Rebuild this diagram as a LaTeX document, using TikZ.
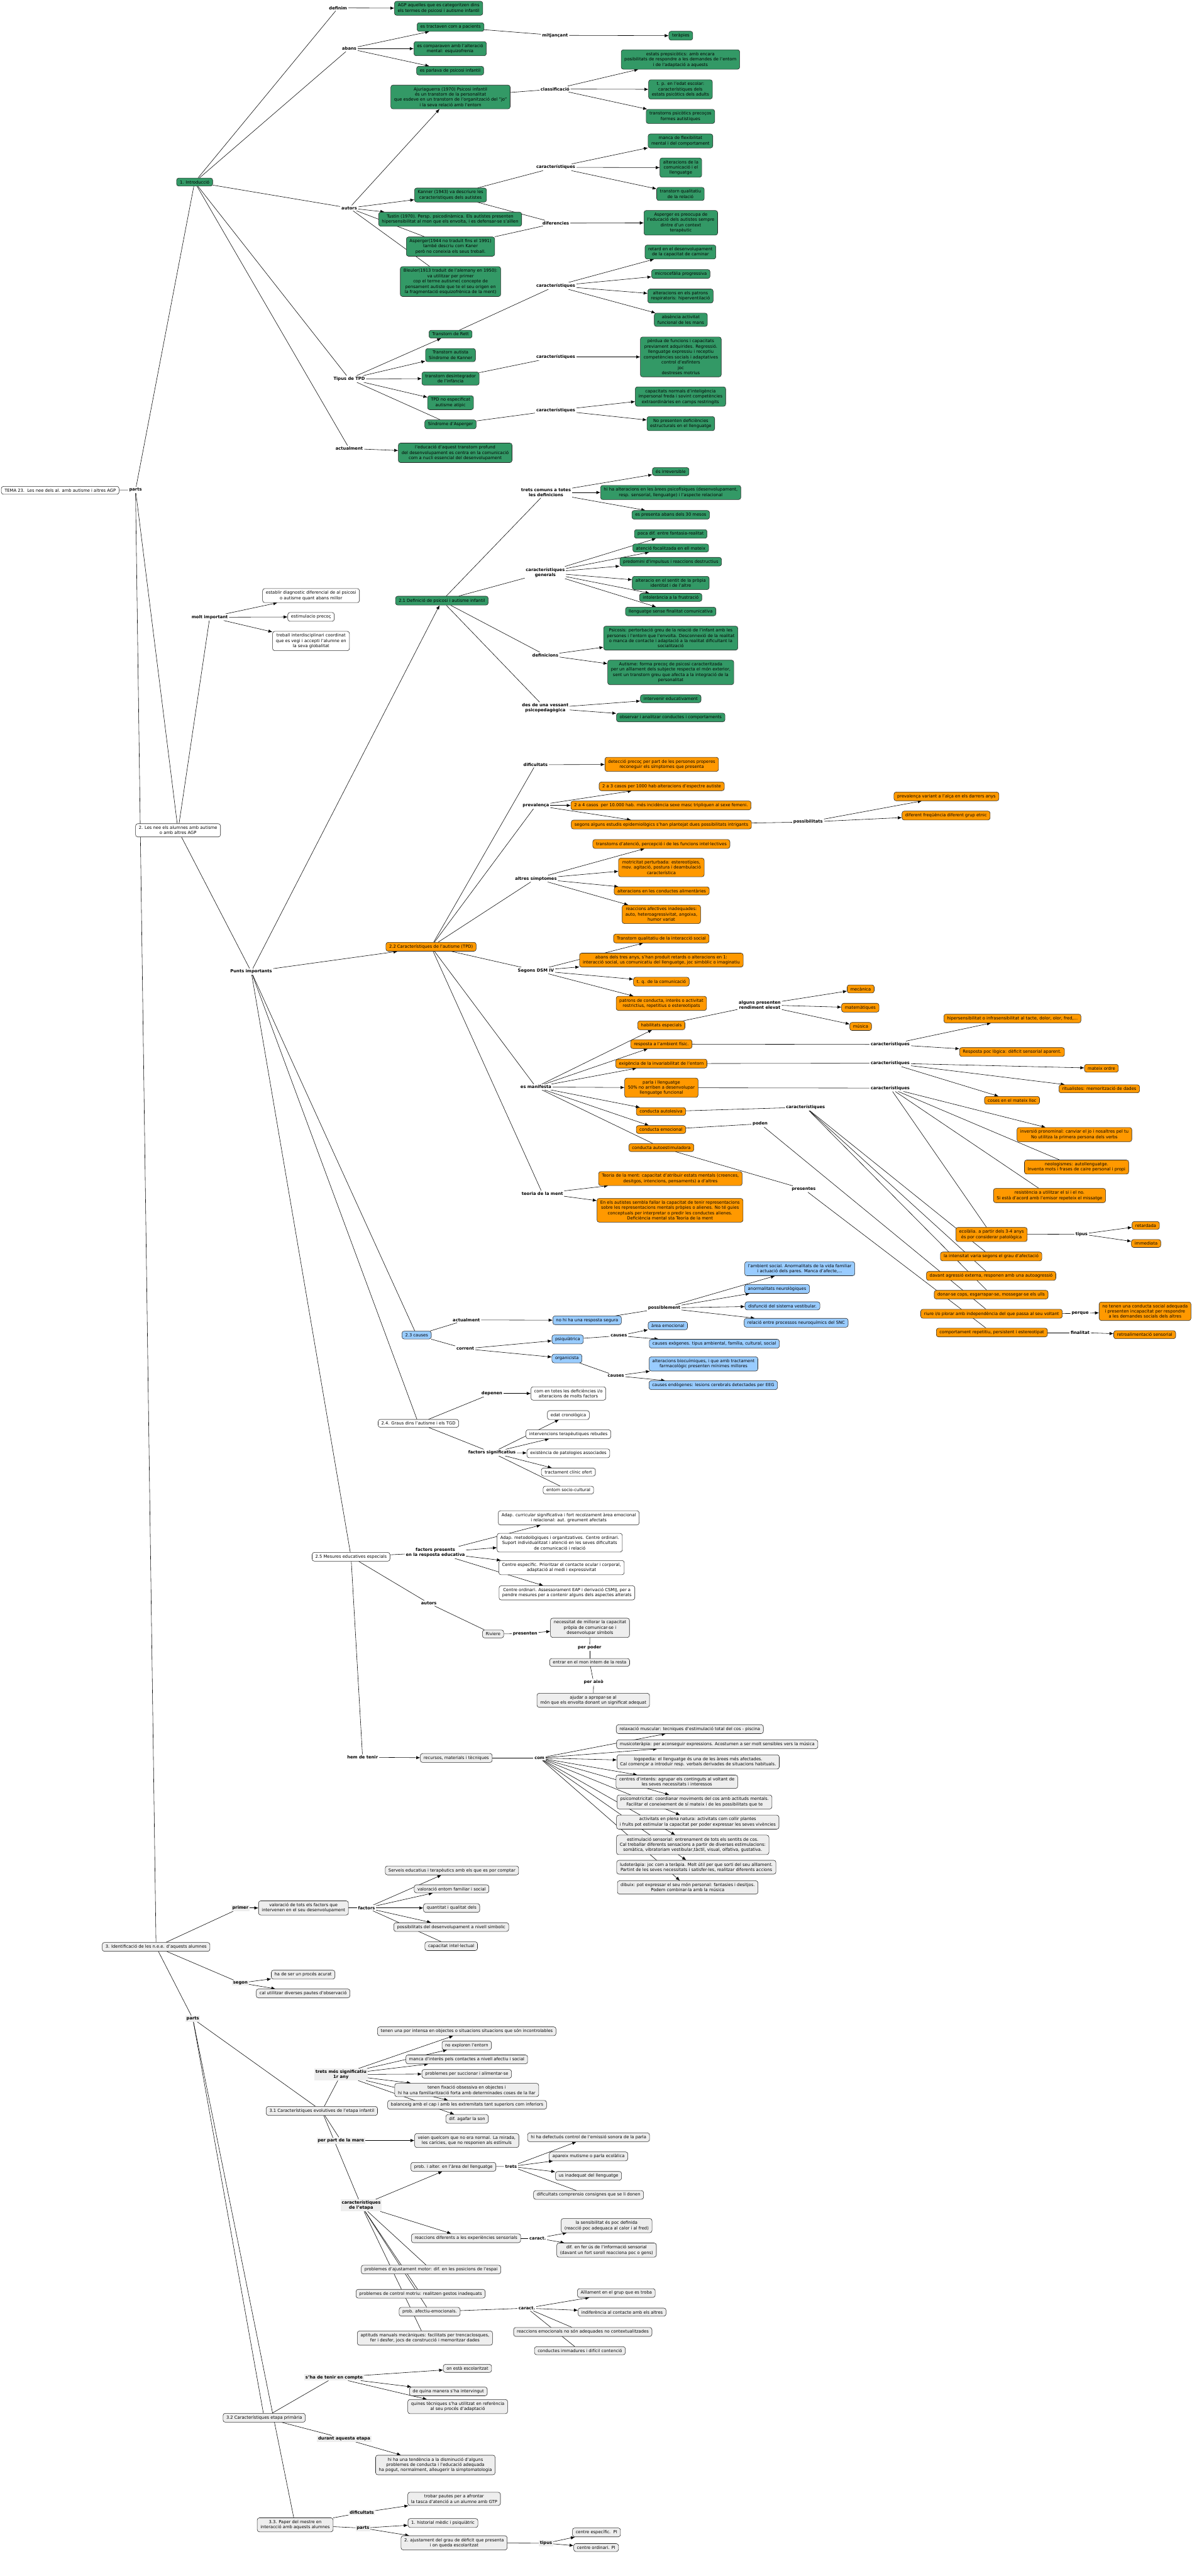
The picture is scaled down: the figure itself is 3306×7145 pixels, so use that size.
\documentclass[tikz,border=0pt]{standalone}
\usepackage{fontspec}
\setmainfont{DejaVu Sans}
\usetikzlibrary{arrows.meta}
\pgfdeclarelayer{background}
\pgfsetlayers{background,main}
\definecolor{cgreen}{RGB}{51,153,102}
\definecolor{corange}{RGB}{255,153,0}
\definecolor{cblue}{RGB}{153,204,255}
\definecolor{cgray}{RGB}{238,238,238}
\definecolor{clab}{RGB}{238,238,238}
\newcommand{\bxf}{\fontsize{5.9pt}{7.35pt}\selectfont}
\newcommand{\myL}[2]{\foreach \t in {#2}{\draw (#1) -- (\t);}}
\newcommand{\myA}[2]{\foreach \t in {#2}{\draw[arr] (#1) -- (\t);}}
\tikzset{
  box/.style={draw=black!85, line width=0.5pt, rounded corners=3pt, inner xsep=4.5pt, inner ysep=3.2pt, align=center, font=\bxf},
  bxG/.style={box, fill=cgreen},
  bxO/.style={box, fill=corange},
  bxB/.style={box, fill=cblue},
  bxY/.style={box, fill=cgray},
  bxW/.style={box, fill=white},
  lab/.style={font=\bxf\bfseries, inner sep=1.5pt, align=center, fill=white},
  slab/.style={lab, fill=clab},
  arr/.style={-{Latex[length=5.5pt,width=4.5pt]}}
}
\begin{document}
\begin{tikzpicture}[x=0.5pt,y=-0.5pt]
\begin{pgfonlayer}{background}
\fill[white] (0,0) rectangle (3306,7145);
\end{pgfonlayer}
\useasboundingbox (0,0) rectangle (3306,7145);

% ---------- root ----------
\node[bxW] (root) at (167,1360) {TEMA 23.~~Les nee dels al. amb autisme i altres AGP};
\node[lab] (Lparts) at (376,1359) {parts};
\node[bxG] (intro) at (540,505) {1. Introducció};
\node[bxW] (les) at (494,2303) {2. Les nee els alumnes amb autisme\\o amb altres AGP};
\node[bxY] (ident) at (433,5400) {3. Identificació de les n.e.e. d'aquests alumnes};

% ---------- section 1 ----------
\node[lab] (Ldefinim) at (938,22) {definim};
\node[bxG] (agp) at (1217,23) {AGP aquelles que es categoritzen dins\\els termes de psicosi i autisme infantil};
\node[lab] (Labans) at (969,135) {abans};
\node[bxG] (tract) at (1250,75) {es tractaven com a pacients};
\node[lab] (Lmitj) at (1540,98) {mitjançant};
\node[bxG] (terap) at (1889,99) {teràpies};
\node[bxG] (compar) at (1249,135) {es comparaven amb l'alteració\\mental: esquizofrenia};
\node[bxG] (parlava) at (1249,196) {es parlava de psicosi infantil};
\node[bxG] (ajur) at (1250,269) {Ajuriaguerra (1970) Psicosi infantil\\és un transtorn de la personalitat\\que esdeve en un transtorn de l'organització del "jo"\\i la seva relació amb l'entorn};
\node[lab] (Lclass) at (1540,247) {classificació};
\node[bxG] (estats) at (1888,165) {estats prepsicòtics: amb encara\\posibilitats de respondre a les demandes de l'entorn\\i de l'adaptació a aquests};
\node[bxG] (tp) at (1888,248) {t. p. en l'edat escolar:\\característiques dels\\estats psicòtics dels adults};
\node[bxG] (precoc) at (1888,323) {transtorns psicòtics precoços\\formes autistiques};
\node[lab] (Lcar1) at (1542,464) {característiques};
\node[bxG] (manca) at (1888,391) {manca de flexibilitat\\mental i del comportament};
\node[bxG] (altcom) at (1889,465) {alteracions de la\\comunicació i el\\llenguatge};
\node[bxG] (tqrel) at (1888,538) {transtorn qualitatiu\\de la relació};
\node[bxG] (kanner) at (1250,541) {Kanner (1943) va descriure les\\caracteristiques dels autistes};
\node[lab] (Lautors) at (969,577) {autors};
\node[bxG] (tustin) at (1249,608) {Tustin (1970). Persp. psicodinàmica. Els autístes presenten\\hipersensibilitat al mon que els envolta, i es defensar-se s'aïllen};
\node[lab] (Ldif) at (1542,619) {diferencies};
\node[bxG] (aspprec) at (1889,618) {Asperger es preocupa de\\l'educació dels autistes sempre\\dintre d'un context\\terapèutic};
\node[bxG] (asp) at (1250,684) {Asperger(1944 no traduït fins el 1991)\\també descriu com Kaner\\però no coneixia els seus treball.};
\node[bxG] (retard) at (1888,699) {retard en el desenvolupament\\de la capacitat de caminar};
\node[bxG] (bleuler) at (1250,781) {Bleuler(1913 traduit de l'alemany en 1950):\\va utilitzar per primer\\cop el terme autisme( concepte de\\pensament autiste que te el seu origen en\\la fragmentació esquizofrènica de la ment)};
\node[lab] (Lcar2) at (1542,793) {característiques};
\node[bxG] (micro) at (1889,760) {microcefàlia progressiva};
\node[bxG] (patrons) at (1888,821) {alteracions en els patrons\\respiratoris: hiperventilació};
\node[bxG] (absenc) at (1889,887) {absència activitat\\funcional de les mans};
\node[bxG] (rett) at (1250,927) {Transtorn de Rett};
\node[bxG] (autista) at (1250,985) {Transtorn autista\\Síndrome de Kanner};
\node[lab] (Ltipus) at (969,1051) {Tipus de TPD};
\node[bxG] (desint) at (1250,1050) {transtorn desintegrador\\de l'infància};
\node[lab] (Lcar3) at (1542,990) {característiques};
\node[bxG] (perdua) at (1889,990) {pèrdua de funcions i capacitats\\previament adquirides. Regressió.\\llenguatge expressiu i receptiu\\competències socials i adaptatives\\control d'esfínters\\joc\\destreses motrius};
\node[bxG] (tpdne) at (1250,1117) {TPD no especificat\\autisme atípic};
\node[bxG] (sasp) at (1250,1177) {Síndrome d'Asperger};
\node[lab] (Lcar4) at (1542,1138) {característiques};
\node[bxG] (capnorm) at (1888,1100) {capacitats normals d'inteligència\\impersonal freda i sovint competències\\extraordinàries en camps restringits};
\node[bxG] (nopres) at (1889,1175) {No presenten deficiències\\estructurals en el llenguatge};
\node[lab] (Lact1) at (969,1244) {actualment};
\node[bxG] (educ) at (1263,1256) {l'educació d'aquest transtorn profund\\del desenvolupament es centra en la comunicació\\com a nucli essencial del desenvolupament};

% ---------- section 2 head ----------
\node[lab] (Lmolt) at (582,1712) {molt important};
\node[bxW] (estab) at (863,1652) {establir diagnostic diferencial de al psicosi\\o autisme quant abans millor};
\node[bxW] (estim) at (863,1711) {estimulacio precoç};
\node[bxW] (treball) at (863,1778) {treball interdisciplinari coordinat\\que es vegi i accepti l'alumne en\\la seva globalitat};
\node[lab] (Lpunts) at (697,2695) {Punts importants};

% ---------- 2.1 ----------
\node[lab] (Ltrets) at (1515,1366) {trets comuns a totes\\les definicions};
\node[bxG] (irrev) at (1861,1308) {és irreversible};
\node[bxG] (hihaalt) at (1861,1366) {hi ha alteracions en les àrees psicofísiques (desenvolupament,\\resp. sensorial, llenguatge) i l'aspecte relacional};
\node[bxG] (abans30) at (1861,1428) {es presenta abans dels 30 mesos};
\node[bxG] (d21) at (1226,1666) {2.1 Definició de psicosi i autisme infantil};
\node[lab] (Lcargen) at (1513,1588) {característiques\\generals};
\node[bxG] (poca) at (1861,1481) {poca dif. entre fantasia-realitat};
\node[bxG] (atencio) at (1861,1520) {atenció focalitzada en ell mateix};
\node[bxG] (predom) at (1861,1558) {predomini d'impulsus i reaccions destructius};
\node[bxG] (altid) at (1861,1617) {alteracio en el sentit de la pròpia\\identitat i de l'altre};
\node[bxG] (intol) at (1861,1657) {intolerància a la frustració};
\node[bxG] (llengs) at (1861,1696) {llenguatge sense finalitat comunicativa};
\node[lab] (Ldefs) at (1513,1817) {definicions};
\node[bxG] (psicosis) at (1861,1770) {Psicosis: pertorbació greu de la relació de l'infant amb les\\persones i l'entorn que l'envolta. Desconnexió de la realitat\\o manca de contacte i adaptació a la realitat dificultant la\\socialització};
\node[bxG] (autisme) at (1861,1865) {Autisme: forma precoç de psicosi caracteritzada\\per un aïllament dels subjecte respecta el món exterior,\\sent un transtorn greu que afecta a la integració de la\\personalitat};
\node[lab] (Lvess) at (1513,1964) {des de una vessant\\psicopedagògica};
\node[bxG] (interv) at (1861,1938) {intervenir educativament};
\node[bxG] (observ) at (1861,1990) {observar i analitzar conductes i comportaments};

% ---------- 2.2 ----------
\node[lab] (Ldific) at (1486,2121) {dificultats};
\node[bxO] (detec) at (1836,2120) {detecció precoç per part de les persones properes\\reconeguir els símptomes que presenta};
\node[lab] (Lprev) at (1487,2234) {prevalença};
\node[bxO] (c23) at (1836,2181) {2 a 3 casos per 1000 hab alteracions d'espectre autiste};
\node[bxO] (c24) at (1834,2234) {2 a 4 casos~~per 10.000 hab. més incidència sexe masc tripliquen al sexe femeni.};
\node[bxO] (segons) at (1835,2287) {segons alguns estudis epidemiològics s'han plantejat dues possibilitats intrigants};
\node[lab] (Lposs) at (2242,2280) {possibilitats};
\node[bxO] (prevvar) at (2626,2209) {prevalença variant a l'alça en els darrers anys};
\node[bxO] (difreq) at (2625,2262) {diferent freqüència diferent grup etnic};
\node[lab] (Laltres) at (1487,2437) {altres símptomes};
\node[bxO] (transat) at (1835,2341) {transtorns d'atenció, percepció i de les funcions intel·lectives};
\node[bxO] (motric) at (1835,2406) {motricitat perturbada: estereotípies,\\mov. agitació, postura i deambulació\\característica};
\node[bxO] (alim) at (1836,2471) {alteracions en les conductes alimentàries};
\node[bxO] (reacc) at (1835,2536) {reaccions afectives inadequades:\\auto, heteroagressivitat, angoixa,\\humor variat};
\node[bxO] (d22) at (1196,2626) {2.2 Característiques de l'autisme (TPD)};
\node[lab] (Ldsm) at (1487,2692) {Segons DSM IV};
\node[bxO] (tqis) at (1835,2603) {Transtorn qualitatiu de la interacció social};
\node[bxO] (abans3) at (1835,2663) {abans dels tres anys, s'han produit retards o alteracions en 1:\\interacció social, us comunicatiu del llenguatge, joc simbòlic o imaginatiu};
\node[bxO] (tqcom) at (1835,2723) {t. q. de la comunicació};
\node[bxO] (patr) at (1835,2783) {patrons de conducta, interès o activitat\\restrictius, repetitius o estereotipats};
\node[bxO] (habil) at (1835,2844) {habilitats especials};
\node[lab] (Lalg) at (2108,2787) {alguns presenten\\rendiment elevat};
\node[bxO] (mec) at (2388,2743) {mecànica};
\node[bxO] (mat) at (2387,2795) {matemàtiques};
\node[bxO] (mus) at (2388,2847) {música};
\node[bxO] (resp) at (1835,2896) {resposta a l'ambient físic.};
\node[lab] (Lcar5) at (2470,2897) {característiques};
\node[bxO] (hiper) at (2809,2825) {hipersensibilitat o infrasensibilitat al tacte, dolor, olor, fred,...};
\node[bxO] (resppoc) at (2808,2918) {Resposta poc lògica: dèficit sensorial aparent.};
\node[bxO] (exig) at (1835,2950) {exigència de la invariabilitat de l'entorn};
\node[lab] (Lcar6) at (2470,2949) {característiques};
\node[bxO] (mateix) at (3056,2963) {mateix ordre};
\node[bxO] (ritual) at (3050,3020) {ritualistes: memorització de dades};
\node[bxO] (coses) at (2808,3052) {coses en el mateix lloc};
\node[lab] (Lmanif) at (1487,3015) {es manifesta};
\node[bxO] (parla) at (1835,3017) {parla i llenguatge\\50\% no arriben a desenvolupar\\llenguatge funcional};
\node[lab] (Lcar7) at (2470,3018) {característiques};
\node[bxO] (autoles) at (1834,3083) {conducta autolesiva};
\node[lab] (Lcar8) at (2235,3071) {característiques};
\node[bxO] (emoc) at (1834,3133) {conducta emocional};
\node[lab] (Lpoden) at (2109,3117) {poden};
\node[bxO] (autoest) at (1835,3183) {conducta autoestimuladora};
\node[lab] (Lpres) at (2230,3298) {presentes};
\node[bxO] (invers) at (2981,3147) {inversió pronominal: canviar el jo i nosaltres pel tu\\No utilitza la primera persona dels verbs};
\node[bxO] (neolog) at (2987,3237) {neologismes: autollenguatge.\\Inventa mots i frases de caire personal i propi};
\node[bxO] (resist) at (2912,3316) {resistència a utilitzar el si i el no.\\Si està d'acord amb l'emisor repeteix el missatge};
\node[bxO] (ecol) at (2751,3424) {ecolàlia. a partir dels 3-4 anys\\és por considerar patològica};
\node[lab] (Ltip2) at (3001,3423) {tipus};
\node[bxO] (retd) at (3179,3399) {retardada};
\node[bxO] (immed) at (3180,3449) {immediata};
\node[bxO] (intens) at (2750,3485) {la intensitat varia segons el grau d'afectació};
\node[bxO] (davant) at (2750,3539) {davant agressió externa, responen amb una autoagressió};
\node[bxO] (donar) at (2750,3591) {donar-se cops, esgarrapar-se, mossegar-se els ulls};
\node[bxO] (riure) at (2751,3644) {riure i/o plorar amb independència del que passa al seu voltant};
\node[lab] (Lperq) at (2997,3643) {perque};
\node[bxO] (notenen) at (3177,3637) {no tenen una conducta social adequada\\i presenten incapacitat per respondre\\a les demandes socials dels altres};
\node[bxO] (teoria) at (1860,3269) {Teoria de la ment: capacitat d'atribuir estats mentals (creences,\\desitgos, intencions, pensaments) a d'altres};
\node[lab] (Lteoria) at (1505,3310) {teoria de la ment};
\node[bxO] (enels) at (1859,3357) {En els autistes sembla fallar la capacitat de tenir representacions\\sobre les representacions mentals pròpies o alienes. No té guies\\conceptuals per interpretar o predir les conductes alienes.\\Deficiència mental sta Teoria de la ment};
\node[bxO] (comport) at (2752,3696) {comportament repetitiu, persistent i estereotipat};
\node[lab] (Lfinal) at (2997,3696) {finalitat};
\node[bxO] (retro) at (3176,3702) {retroalimentació sensorial};

% ---------- 2.3 ----------
\node[bxB] (d23) at (1156,3703) {2.3 causes};
\node[lab] (Lact2) at (1294,3661) {actualment};
\node[bxB] (nohi) at (1629,3662) {no hi ha una resposta segura};
\node[lab] (Lposib) at (1843,3628) {possiblement};
\node[bxB] (ambsoc) at (2219,3519) {l'ambient social. Anormalitats de la vida familiar\\i actuació dels pares. Manca d'afecte,...};
\node[bxB] (neuro) at (2156,3575) {anormalitats neurològiques};
\node[bxB] (vestib) at (2171,3622) {disfunció del sistema vestibular.};
\node[bxB] (snc) at (2209,3669) {relació entre processos neuroquímics del SNC};
\node[lab] (Lcorr) at (1291,3741) {corrent};
\node[bxB] (psiq) at (1575,3715) {psiquiàtrica};
\node[lab] (Lcaus1) at (1717,3705) {causes};
\node[bxB] (areaem) at (1853,3677) {àrea emocional};
\node[bxB] (exog) at (1982,3727) {causes exògenes. tipus ambiental, família, cultural, social};
\node[bxB] (organ) at (1573,3768) {organicista};
\node[lab] (Lcaus2) at (1709,3816) {causes};
\node[bxB] (biocu) at (1952,3783) {alteracions biocuímiques, i que amb tractament\\farmacològic presenten mínimes millores};
\node[bxB] (endog) at (1979,3842) {causes endògenes: lesions cerebrals detectades per EEG};

% ---------- 2.4 ----------
\node[bxW] (d24) at (1161,3948) {2.4. Graus dins l'autisme i els TGD};
\node[lab] (Ldep) at (1365,3865) {depenen};
\node[bxW] (comen) at (1577,3865) {com en totes les deficiències i/o\\alteracions de molts factors};
\node[lab] (Lfact) at (1365,4029) {factors significatius};
\node[bxW] (edat) at (1577,3925) {edat cronològica};
\node[bxW] (intervs) at (1577,3978) {intervencions terapèutiques rebudes};
\node[bxW] (exist) at (1577,4031) {existència de patologies associades};
\node[bxW] (tract2) at (1577,4083) {tractament clínic ofert};
\node[bxW] (entorn) at (1577,4133) {entorn socio-cultural};

% ---------- 2.5 ----------
\node[bxW] (d25) at (974,4318) {2.5 Mesures educatives especials};
\node[lab] (Lfpres) at (1208,4306) {factors presents\\en la resposta educativa};
\node[bxW] (adap1) at (1578,4210) {Adap. curricular significativa i fort recolzament àrea emocional\\i relacional: aut. greument afectats};
\node[bxW] (adap2) at (1553,4279) {Adap. metodològiques i organitzatives. Centre ordinari.\\Suport individualitzat i atenció en les seves dificultats\\de comunicació i relació};
\node[bxW] (cesp) at (1558,4348) {Centre específic. Prioritzar el contacte ocular i corporal,\\adaptació al medi i expressivitat};
\node[bxW] (cord) at (1573,4418) {Centre ordinari. Assessorament EAP i derivació CSMIJ, per a\\pendre mesures per a contenir alguns dels aspectes alterats};
\node[lab] (Laut2) at (1190,4447) {autors};
\node[bxY] (riv) at (1368,4532) {Riviere};
\node[lab] (Lpresen) at (1457,4531) {presenten};
\node[bxY] (neces) at (1637,4515) {necessitat de millorar la capacitat\\pròpia de comunicar-se i\\desenvolupar símbols};
\node[lab] (Lperpod) at (1636,4570) {per poder};
\node[bxY] (entrar) at (1636,4611) {entrar en el mon intern de la resta};
\node[lab] (Lperaixo) at (1647,4666) {per això};
\node[bxY] (ajudar) at (1646,4716) {ajudar a apropar-se al\\món que els envolta donant un significat adequat};
\node[lab] (Lhem) at (1006,4874) {hem de tenir};
\node[bxY] (recur) at (1266,4876) {recursos, materials i tècniques};
\node[lab] (Lcom) at (1497,4876) {com};
\node[bxY] (relax) at (1914,4796) {relaxació muscular: tecniques d'estimulació total del cos - piscina};
\node[bxY] (music) at (1990,4838) {musicoteràpia: per aconseguir expressions. Acostumen a ser molt sensibles vers la música};
\node[bxY] (logo) at (1937,4887) {logopedia: el llenguatge és una de les àrees més afectades.\\Cal començar a introduir resp. verbals derivades de situacions habituals.};
\node[bxY] (centres) at (1878,4942) {centres d'interés: agrupar els continguts al voltant de\\les seves necessitats i interessos};
\node[bxY] (psicom) at (1927,4998) {psicomotricitat: coordianar moviments del cos amb actituds mentals.\\Facilitar el coneixement de sí mateix i de les possibilitats que te};
\node[bxY] (activ) at (1936,5054) {activitats en plena natura: activitats com collir plantes\\i fruïts pot estimular la capacitat per poder expressar les seves vivències};
\node[bxY] (estsens) at (1922,5117) {estimulació sensorial: entrenament de tots els sentits de cos.\\Cal treballar diferents sensacions a partir de diverses estimulacions:\\somàtica, vibratoriam vestibular,tàctil, visual, olfativa, gustativa.};
\node[bxY] (ludo) at (1932,5179) {ludoteràpia: joc com a teràpia. Molt útil per que sorti del seu aïllament.\\Partint de les seves necessitats i satisfer-les, realitzar diferents accions};
\node[bxY] (dibuix) at (1908,5235) {dibuix: pot expressar el seu món personal: fantasies i desitjos.\\Podem combinar-la amb la música};

% ---------- section 3 ----------
\node[slab] (Lprimer) at (667,5292) {primer};
\node[bxY] (valor) at (842,5292) {valoració de tots els factors que\\intervenen en el seu desenvolupament};
\node[lab] (Lfactors) at (1017,5292) {factors};
\node[bxY] (serveis) at (1254,5188) {Serveis educatius i terapèutics amb els que es por comptar};
\node[bxY] (valent) at (1253,5239) {valoració entorn familiar i social};
\node[bxY] (quant) at (1253,5292) {quantitat i qualitat dels};
\node[bxY] (possib) at (1252,5345) {possibilitats del desenvolupament a nivell simbolic};
\node[bxY] (capint) at (1252,5398) {capacitat intel·lectual};
\node[slab] (Lsegon) at (667,5500) {segon};
\node[bxY] (acurat) at (841,5477) {ha de ser un procés acurat};
\node[bxY] (pautes) at (841,5529) {cal utilitzar diverses pautes d'observació};
\node[slab] (Lparts3) at (535,5599) {parts};
\node[slab] (Ltrets1) at (946,5754) {trets més significatiu\\1r any};
\node[bxY] (por) at (1295,5634) {tenen una por intensa en objectes o situacions situacions que són incontrolables};
\node[bxY] (noexp) at (1295,5673) {no exploren l'entorn};
\node[bxY] (mancaint) at (1295,5712) {manca d'interès pels contactes a nivell afectiu i social};
\node[bxY] (succ) at (1295,5752) {problemes per succionar i alimentar-se};
\node[bxY] (fixacio) at (1295,5797) {tenen fixació obsessiva en objectes i\\hi ha una familiarització forta amb determinades coses de la llar};
\node[bxY] (balanc) at (1296,5838) {balanceig amb el cap i amb les extremitats tant superiors com inferiors};
\node[bxY] (son) at (1296,5877) {dif. agafar la son};
\node[bxY] (d31) at (893,5855) {3.1 Característiques evolutives de l'etapa infantil};
\node[slab] (Lmare) at (946,5937) {per part de la mare};
\node[bxY] (veien) at (1295,5937) {veien quelcom que no era normal. La mirada,\\les carícies, que no responien als estímuls};
\node[bxY] (defect) at (1633,5928) {hi ha defectuós control de l'emissió sonora de la parla};
\node[bxY] (mutisme) at (1633,5981) {apareix mutisme o parla ecolàlica};
\node[bxY] (probll) at (1258,6010) {prob. i alter. en l'àrea del llenguatge};
\node[lab] (Ltrets2) at (1418,6009) {trets};
\node[bxY] (usin) at (1633,6035) {us inadequat del llenguatge};
\node[bxY] (dificomp) at (1633,6088) {dificultats comprensio consignes que se li donen};
\node[slab] (Lcaretapa) at (1002,6117) {característiques\\de l'etapa};
\node[bxY] (reacdif) at (1293,6208) {reaccions diferents a les experiències sensorials};
\node[lab] (Lcaract1) at (1492,6208) {caract.};
\node[bxY] (sensib) at (1683,6173) {la sensibilitat és poc definida\\(reacció poc adequaca al calor i al fred)};
\node[bxY] (difus) at (1683,6241) {dif. en fer ús de l'informació sensorial\\(davant un fort soroll reacciona poc o gens)};
\node[bxY] (ajust) at (1196,6295) {problemes d'ajustament motor: dif. en les posicions de l'espai};
\node[bxY] (control) at (1167,6362) {problemes de control motriu: realitzen gestos inadequats};
\node[bxY] (afect) at (1192,6412) {prob. afectiu-emocionals.};
\node[lab] (Lcaract2) at (1462,6402) {caract.};
\node[bxY] (aill) at (1710,6360) {Aïllament en el grup que es troba};
\node[bxY] (indif) at (1726,6413) {indiferència al contacte amb els altres};
\node[bxY] (reacem) at (1617,6468) {reaccions emocionals no són adequades no contextualitzades};
\node[bxY] (immad) at (1609,6520) {conductes immadures i difícil contenció};
\node[bxY] (aptit) at (1179,6485) {aptituds manuals mecàniques: facilitats per trencaclosques,\\fer i desfer, jocs de construcció i memoritzar dades};
\node[slab] (Ltenir) at (927,6594) {s'ha de tenir en compte};
\node[bxY] (onesta) at (1297,6569) {on està escolaritzat};
\node[bxY] (quina) at (1244,6633) {de quina manera s'ha intervingut};
\node[bxY] (quines) at (1270,6675) {quines tècniques s'ha utilitzat en referència\\al seu procés d'adaptació};
\node[bxY] (d32) at (733,6706) {3.2 Característiques etapa primària};
\node[slab] (Ldurant) at (955,6764) {durant aquesta etapa};
\node[bxY] (tend) at (1208,6837) {hi ha una tendència a la disminució d'alguns\\problemes de conducta i l'educació adequada\\ha pogut, normalment, alleugerir la simptomatologia};
\node[slab] (Ldif3) at (1004,6969) {dificultats};
\node[bxY] (trobar) at (1260,6931) {trobar pautes per a afrontar\\la tasca d'atenció a un alumne amb GTP};
\node[bxY] (d33) at (819,7003) {3.3. Paper del mestre en\\interacció amb aquests alumnes};
\node[slab] (Lparts4) at (1007,7012) {parts};
\node[bxY] (hist) at (1229,6998) {1. historial mèdic i psiquiàtric};
\node[bxY] (ajustg) at (1260,7053) {2. ajustament del grau de dèficit que presenta\\i on queda escolaritzat};
\node[slab] (Ltip3) at (1515,7054) {tipus};
\node[bxY] (cesp2) at (1655,7024) {centre específic.~~PI};
\node[bxY] (cord2) at (1654,7066) {centre ordinari. PI};

% ---------- connectors ----------
\begin{pgfonlayer}{background}
\begin{scope}[line width=0.5pt]
\myL{root}{Lparts}
\myL{Lparts}{intro,les,ident}
\myL{intro}{Ldefinim,Labans,Lautors,Ltipus,Lact1}
\myA{Ldefinim}{agp}
\myA{Labans}{tract,compar,parlava}
\myL{tract}{Lmitj} \myA{Lmitj}{terap}
\myA{Lautors}{ajur,kanner,tustin}
\myL{Lautors}{asp,bleuler}
\myL{ajur}{Lclass} \myA{Lclass}{estats,tp,precoc}
\myL{kanner}{Lcar1,Ldif} \myA{Lcar1}{manca,altcom,tqrel}
\myL{asp}{Ldif} \myA{Ldif}{aspprec}
\myL{rett}{Lcar2} \myA{Lcar2}{retard,micro,patrons,absenc}
\myA{Ltipus}{rett,autista,desint,tpdne} \myL{Ltipus}{sasp}
\myL{desint}{Lcar3} \myA{Lcar3}{perdua}
\myL{sasp}{Lcar4} \myA{Lcar4}{capnorm,nopres}
\myA{Lact1}{educ}

\myL{les}{Lmolt,Lpunts}
\myA{Lmolt}{estab,estim,treball}
\myA{Lpunts}{d21,d22}
\myL{Lpunts}{d23,d24,d25}

\myL{d21}{Ltrets,Lcargen,Ldefs,Lvess}
\myA{Ltrets}{irrev,hihaalt,abans30}
\myA{Lcargen}{poca,atencio,predom,altid,intol,llengs}
\myA{Ldefs}{psicosis,autisme}
\myA{Lvess}{interv,observ}

\myL{d22}{Ldific,Lprev,Laltres,Ldsm,Lmanif,Lteoria}
\myA{Ldific}{detec}
\myA{Lprev}{c23,c24,segons}
\myL{segons}{Lposs} \myA{Lposs}{prevvar,difreq}
\myA{Laltres}{transat,motric,alim,reacc}
\myA{Ldsm}{tqis,abans3,tqcom,patr}
\myA{Lmanif}{habil,resp,exig,parla,autoles,emoc} \myL{Lmanif}{autoest}
\myL{habil}{Lalg} \myA{Lalg}{mec,mat,mus}
\myL{resp}{Lcar5} \myA{Lcar5}{hiper,resppoc}
\myL{exig}{Lcar6} \myA{Lcar6}{mateix,ritual,coses}
\myL{parla}{Lcar7} \myA{Lcar7}{invers} \myL{Lcar7}{neolog,resist,ecol}
\myL{ecol}{Ltip2} \myA{Ltip2}{retd,immed}
\myL{autoles}{Lcar8} \myL{Lcar8}{intens,davant,donar}
\myL{emoc}{Lpoden} \myL{Lpoden}{riure}
\myL{riure}{Lperq} \myA{Lperq}{notenen}
\myL{autoest}{Lpres} \myL{Lpres}{comport}
\myL{comport}{Lfinal} \myA{Lfinal}{retro}
\myA{Lteoria}{teoria,enels}

\myL{d23}{Lact2,Lcorr}
\myA{Lact2}{nohi}
\myL{nohi}{Lposib} \myA{Lposib}{ambsoc,neuro,vestib,snc}
\myA{Lcorr}{psiq,organ}
\myL{psiq}{Lcaus1} \myA{Lcaus1}{areaem,exog}
\myL{organ}{Lcaus2} \myA{Lcaus2}{biocu,endog}

\myL{d24}{Ldep,Lfact}
\myA{Ldep}{comen}
\myA{Lfact}{edat,intervs,exist,tract2} \myL{Lfact}{entorn}

\myL{d25}{Lfpres,Laut2,Lhem}
\myA{Lfpres}{adap1,adap2,cesp,cord}
\myL{Laut2}{riv}
\myL{riv}{Lpresen} \myA{Lpresen}{neces}
\myL{neces}{Lperpod} \myL{Lperpod}{entrar}
\myL{entrar}{Lperaixo} \myL{Lperaixo}{ajudar}
\myA{Lhem}{recur}
\myL{recur}{Lcom} \myA{Lcom}{relax,music,logo,centres,psicom,activ,estsens,ludo,dibuix}

\myL{ident}{Lprimer,Lsegon,Lparts3}
\myA{Lprimer}{valor}
\myL{valor}{Lfactors} \myA{Lfactors}{serveis,valent,quant,possib} \myL{Lfactors}{capint}
\myA{Lsegon}{acurat,pautes}
\myL{Lparts3}{d31,d32,d33}
\myL{d31}{Ltrets1,Lmare,Lcaretapa}
\myA{Ltrets1}{por,noexp,mancaint,succ,fixacio,balanc,son}
\myA{Lmare}{veien}
\myA{Lcaretapa}{probll,reacdif} \myL{Lcaretapa}{ajust,control,afect,aptit}
\myL{probll}{Ltrets2} \myA{Ltrets2}{defect,mutisme,usin} \myL{Ltrets2}{dificomp}
\myL{reacdif}{Lcaract1} \myA{Lcaract1}{sensib,difus}
\myL{afect}{Lcaract2} \myA{Lcaract2}{aill,indif} \myL{Lcaract2}{reacem,immad}
\myL{d32}{Ltenir,Ldurant}
\myA{Ltenir}{onesta,quina,quines}
\myA{Ldurant}{tend}
\myL{d33}{Ldif3,Lparts4}
\myA{Ldif3}{trobar}
\myA{Lparts4}{hist,ajustg}
\myL{ajustg}{Ltip3} \myA{Ltip3}{cesp2,cord2}
\end{scope}
\end{pgfonlayer}
\end{tikzpicture}
\end{document}
